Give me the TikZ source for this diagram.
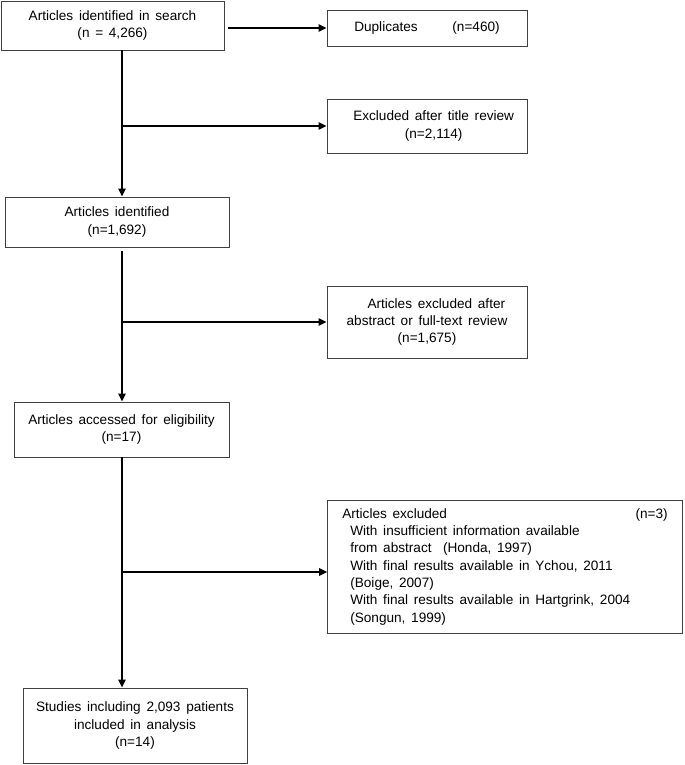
\documentclass[tikz,border=0pt]{standalone}
\usepackage{fontspec}
\setmainfont{Liberation Sans}
\usetikzlibrary{arrows.meta}
\newcommand{\boxfont}{\fontsize{10.2}{13}\selectfont\spaceskip=0.42em plus 0.1em\relax}

\begin{document}
\begin{tikzpicture}[x=0.75pt,y=-0.75pt,>={Triangle[length=6pt,width=5.5pt]},semithick]
\tikzstyle{box} = [rectangle,draw=black!75,line width=0.7pt,align=center,inner sep=2pt,font=\boxfont]
\tikzstyle{flow} = [->,line width=1.3pt,black]
    \useasboundingbox (0,0) rectangle (685,765);
    % main column
    \node[box,minimum width=167.25pt,minimum height=36.75pt] (search) at (112.5,25.5) {Articles identified in search\\(n = 4,266)};
    \node[box,minimum width=168pt,minimum height=37.5pt] (ident) at (117,222) {Articles identified\\(n=1,692)};
    \node[box,minimum width=161.25pt,minimum height=41.25pt] (elig) at (121.5,429.5) {Articles accessed for eligibility\\(n=17)};
    \node[box,minimum width=168pt,minimum height=56.25pt] (incl) at (135,725.5) {Studies including 2,093 patients\\included in analysis\\(n=14)};
    % side boxes
    \node[box,minimum width=150pt,minimum height=27pt] (dup) at (427,28) {Duplicates\hspace*{26pt}(n=460)};
    \node[box,minimum width=150pt,minimum height=40.5pt] (title) at (427,126) {\hspace*{10pt}Excluded after title review\\\hspace*{10pt}(n=2,114)};
    \node[box,minimum width=150pt,minimum height=54pt] (abstr) at (427,322) {\hspace*{14pt}Articles excluded after\\abstract or full-text review\\(n=1,675)};
    \node[box,align=flush left,text width=244pt,inner xsep=11pt,minimum height=99.75pt] (excl) at (505,566.5) {\hbox to \hsize{Articles excluded\hfill(n=3)}\\
        \hspace*{6pt}With insufficient information available\\
        \hspace*{6pt}from abstract\ \ (Honda, 1997)\\
        \hspace*{6pt}With final results available in Ychou, 2011\\
        \hspace*{6pt}(Boige, 2007)\\
        \hspace*{6pt}With final results available in Hartgrink, 2004\\
        \hspace*{6pt}(Songun, 1999)};

    \coordinate (j1) at (122,126);
    \coordinate (j2) at (122,322);
    \coordinate (j3) at (122,572);

    \draw[flow] ([xshift=3pt]search.east |- dup.west) -- (dup.west);
    \draw[flow] (search.south -| j1) -- (ident.north -| j1);
    \draw[flow] (j1) -- (title.west);
    \draw[flow] ([yshift=-3pt]ident.south -| j2) -- (elig.north -| j2);
    \draw[flow] (j2) -- (abstr.west);
    \draw[flow] (elig.south -| j3) -- (incl.north -| j3);
    \draw[flow] (j3) -- (excl.west |- j3);
\end{tikzpicture}
\end{document}
